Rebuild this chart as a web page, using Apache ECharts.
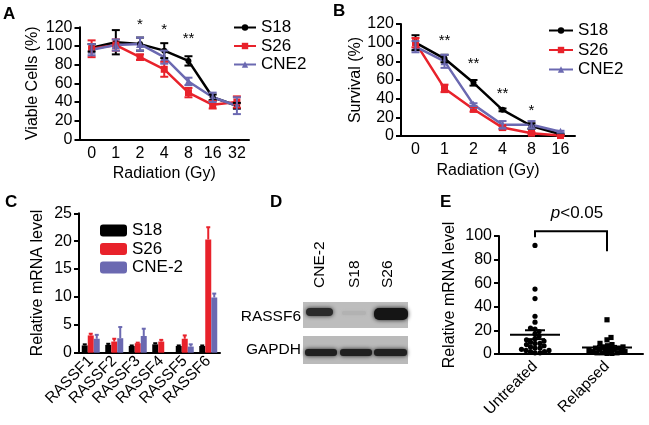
<!DOCTYPE html>
<html><head><meta charset="utf-8">
<script src="https://cdn.jsdelivr.net/npm/echarts@6/dist/echarts.min.js"></script>
<style>html,body{margin:0;padding:0;background:#fff}#c{width:649px;height:425px}</style>
</head><body><div id="c"></div><script>
// ---------- Panel A: viable cells ----------
const catsA = ['0','1','2','4','8','16','32'];
const aS18 = [98, 104, 102, 95, 84, 45, 36];
const aS18Err = [4, 13, 7, 8, 5, 3, 3];
const aS26 = [97, 101, 88, 75, 50, 37, 40];
const aS26Err = [9, 6, 3, 8, 5, 4, 6];
const aCNE2 = [96, 101, 102, 88, 62, 45, 36];
const aCNE2Err = [6, 6, 7, 7, 4, 5, 9];
const aStarCats = ['2','4','8'];
const aStarVals = [122.5, 117, 107.5];
const aStarText = ['*','*','**'];
// ---------- Panel B: survival ----------
const catsB = ['0','1','2','4','8','16'];
const bS18 = [100, 83, 57, 28, 10.7, 1.8];
const bS18Err = [8, 4, 3, 1.5, 3, 0.5];
const bS26 = [100, 51, 28.6, 9, 3, 0.5];
const bS26Err = [5, 4, 2.5, 2, 1, 0.5];
const bCNE2 = [95.7, 80, 33.6, 12, 12, 4.6];
const bCNE2Err = [6, 7, 1.5, 4, 4, 1];
const bStarCats = ['1','2','4','8'];
const bStarVals = [101.8, 77, 45, 26.8];
const bStarText = ['**','**','**','*'];
// ---------- Panel C: RASSF mRNA ----------
const catsC = ['RASSF1','RASSF2','RASSF3','RASSF4','RASSF5','RASSF6'];
const cS18 = [1.3, 1.4, 1.2, 1.5, 1.2, 1.2];
const cS18Err = [0.2, 0.2, 0.1, 0.2, 0.1, 0.1];
const cS26 = [3.1, 2.0, 1.7, 2.0, 2.5, 20.3];
const cS26Err = [0.3, 0.5, 0.1, 0.3, 0.6, 2.2];
const cCNE2 = [2.5, 2.6, 3.0, 0, 1.1, 9.9];
const cCNE2Err = [0.7, 2.0, 1.3, 0, 0.4, 0.7];
// ---------- Panel E: patients ----------
const catsE = ['Untreated','Relapsed'];
const eUntreated = [92, 55, 47, 32, 27, 22, 21, 19, 17, 15, 13, 12, 11, 10, 9, 9, 8, 7, 6, 5, 5, 4, 3, 3, 2, 2, 1, 1];
const eRelapsed = [29, 14, 12, 9, 8, 7, 6, 6, 5, 5, 4, 4, 3, 3, 3, 2, 2, 2, 1, 1, 1, 0.5, 0.5];
const eBracket = [99, 104, 87];   // left leg end, top, right leg end
const ePText = 119;

const FF = '"Liberation Sans", Arial, Helvetica, sans-serif';
const BLACK = '#000', RED = '#e8222b', PURPLE = '#6b69b1';
const TICK = 16, NAME = 16, LEG = 17;

const chart = echarts.init(document.getElementById('c'), null, {renderer:'canvas', width:649, height:425});

function yAx(gi, max, interval, name, nameGap){
  return {type:'value', gridIndex:gi, min:0, max, interval, name, nameLocation:'middle', nameGap, nameRotate:90,
    nameTextStyle:{fontSize:NAME, color:BLACK, fontFamily:FF},
    axisLine:{show:true, onZero:false, lineStyle:{color:BLACK, width:2}},
    axisTick:{show:true, length:5, lineStyle:{color:BLACK, width:2}},
    axisLabel:{fontSize:TICK, color:BLACK, margin:7, fontFamily:FF},
    splitLine:{show:false}};
}
function xAx(gi, data, name, nameGap, lab){
  return {type:'category', gridIndex:gi, data, name, nameLocation:'middle', nameGap,
    nameTextStyle:{fontSize:NAME, color:BLACK, fontFamily:FF},
    axisLine:{show:true, onZero:false, lineStyle:{color:BLACK, width:2}},
    axisTick:{show:false},
    axisLabel:Object.assign({fontSize:TICK, color:BLACK, margin:6, interval:0, fontFamily:FF}, lab||{}),
    splitLine:{show:false}};
}
function lineS(name, ax, data, color, symbol, size){
  return {type:'line', name, xAxisIndex:ax, yAxisIndex:ax, data, symbol, symbolSize:size, showSymbol:true,
    lineStyle:{width:2.5, color}, itemStyle:{color}, color, z:3, animation:false};
}
function errS(ax, vals, errs, color, opt){
  opt = opt || {};
  return {type:'custom', xAxisIndex:ax, yAxisIndex:ax, z:opt.z || 4, animation:false, clip:false,
    data: vals.map((v,i)=>[i, v, errs[i]]),
    renderItem(params, api){
      const i = api.value(0), v = api.value(1), e = api.value(2);
      if (!e) return null;
      const off = opt.offset || 0, hw = opt.cap || 4;
      const c = api.coord([i, v]); const x = c[0] + off;
      const top = api.coord([i, v + e])[1];
      const bot = opt.upOnly ? c[1] : api.coord([i, v - e])[1];
      const st = {stroke:color, lineWidth:2};
      const ch = [{type:'line', shape:{x1:x, y1:top, x2:x, y2:bot}, style:st},
                  {type:'line', shape:{x1:x-hw, y1:top, x2:x+hw, y2:top}, style:st}];
      if (!opt.upOnly) ch.push({type:'line', shape:{x1:x-hw, y1:bot, x2:x+hw, y2:bot}, style:st});
      return {type:'group', children:ch};
    }};
}
function textS(ax, cats, vals, texts, fs){
  return {type:'custom', xAxisIndex:ax, yAxisIndex:ax, z:5, animation:false, clip:false,
    data: cats.map((c,i)=>[c, vals[i]]),
    renderItem(params, api){
      const p = api.coord([api.value(0), api.value(1)]);
      return {type:'text', x:p[0], y:p[1], style:{text:texts[params.dataIndex], fontSize:fs, fill:BLACK,
        fontFamily:FF, align:'center', verticalAlign:'middle'}};
    }};
}
function swarmOffsets(api, vals, ci, d, maxW){
  const pts = vals.map((v,i)=>({i, y: api.coord([ci, v])[1]}));
  const order = pts.slice().sort((a,b)=>b.y - a.y);
  const placed = []; const off = new Array(vals.length).fill(0);
  for (const p of order){
    let best = 0, bestScore = -1;
    for (let k = 0; k < 400; k++){
      const cand = k === 0 ? 0 : (k % 2 ? 1 : -1) * Math.ceil(k/2) * 0.5;
      if (Math.abs(cand) > maxW) break;
      let mind = Infinity;
      for (const q of placed){ mind = Math.min(mind, Math.sqrt((cand-q.dx)**2 + (p.y-q.y)**2)); }
      if (mind >= d){ best = cand; bestScore = Infinity; break; }
      if (mind > bestScore + 0.3){ bestScore = mind; best = cand; }
    }
    placed.push({dx:best, y:p.y}); off[p.i] = best;
  }
  return off;
}
const eGroups = [eUntreated, eRelapsed];
function meanSem(a){
  const m = a.reduce((s,v)=>s+v,0)/a.length;
  const sd = Math.sqrt(a.reduce((s,v)=>s+(v-m)**2,0)/(a.length-1));
  return [m, sd/Math.sqrt(a.length)];
}

const ePts = [];
eGroups.forEach((g,ci)=>g.forEach((v,j)=>ePts.push([ci, v, j])));

const option = {
  animation:false,
  textStyle:{fontFamily:FF},
  grid:[
    {left:79.5, top:27.3, width:169.5, height:112, outerBoundsMode:'none'},
    {left:401, top:24, width:174, height:112, outerBoundsMode:'none'},
    {left:79, top:213.3, width:141, height:139.4, outerBoundsMode:'none'},
    {left:499, top:236, width:144, height:118, outerBoundsMode:'none'}
  ],
  xAxis:[
    xAx(0, catsA, 'Radiation (Gy)', 26),
    xAx(1, catsB, 'Radiation (Gy)', 27),
    xAx(2, catsC, '', 0, {rotate:45, fontSize:15.5, margin:6}),
    xAx(3, catsE, '', 0, {rotate:45, fontSize:15.5, margin:10})
  ],
  yAxis:[
    yAx(0, 120, 20, 'Viable Cells (%)', 39),
    yAx(1, 120, 20, 'Survival (%)', 36),
    yAx(2, 25, 5, 'Relative mRNA level', 33),
    yAx(3, 100, 20, 'Relative mRNA level', 41)
  ],
  legend:[
    {orient:'vertical', left:228, top:14, itemWidth:22, itemHeight:8, itemGap:1.5, selectedMode:false,
     data:['S18','S26','CNE2'], textStyle:{fontSize:LEG, color:BLACK, fontFamily:FF}},
    {orient:'vertical', left:543, top:17, itemWidth:24, itemHeight:8, itemGap:2.5, selectedMode:false,
     data:['S18','S26','CNE2'], textStyle:{fontSize:LEG, color:BLACK, fontFamily:FF}},
    {orient:'vertical', left:95, top:217, itemWidth:27, itemHeight:12, itemGap:1.5, selectedMode:false,
     data:['C_S18','C_S26','CNE-2'], formatter:n=>n.replace('C_',''),
     textStyle:{fontSize:LEG, color:BLACK, fontFamily:FF}}
  ],
  series:[
    lineS('S18', 0, aS18, BLACK, 'circle', 6),
    lineS('S26', 0, aS26, RED, 'rect', 7),
    lineS('CNE2', 0, aCNE2, PURPLE, 'triangle', 8),
    errS(0, aS18, aS18Err, BLACK), errS(0, aS26, aS26Err, RED), errS(0, aCNE2, aCNE2Err, PURPLE),
    textS(0, aStarCats, aStarVals, aStarText, 15),
    lineS('S18', 1, bS18, BLACK, 'circle', 6),
    lineS('S26', 1, bS26, RED, 'rect', 7),
    lineS('CNE2', 1, bCNE2, PURPLE, 'triangle', 8),
    errS(1, bS18, bS18Err, BLACK), errS(1, bS26, bS26Err, RED), errS(1, bCNE2, bCNE2Err, PURPLE),
    textS(1, bStarCats, bStarVals, bStarText, 15),
    {type:'bar', name:'C_S18', xAxisIndex:2, yAxisIndex:2, data:cS18, barWidth:6, barGap:'0%', itemStyle:{color:BLACK}, color:BLACK},
    {type:'bar', name:'C_S26', xAxisIndex:2, yAxisIndex:2, data:cS26, barWidth:6, barGap:'0%', itemStyle:{color:RED}, color:RED},
    {type:'bar', name:'CNE-2', xAxisIndex:2, yAxisIndex:2, data:cCNE2, barWidth:6, barGap:'0%', itemStyle:{color:PURPLE}, color:PURPLE},
    errS(2, cS18, cS18Err, BLACK, {offset:-6, cap:2, upOnly:true}),
    errS(2, cS26, cS26Err, RED, {offset:0, cap:2, upOnly:true}),
    errS(2, cCNE2, cCNE2Err, PURPLE, {offset:6, cap:2, upOnly:true}),
    // Panel E points
    {type:'custom', xAxisIndex:3, yAxisIndex:3, z:4, animation:false, clip:false, data:ePts,
     renderItem(params, api){
       const ci = api.value(0), v = api.value(1), j = api.value(2);
       const off = swarmOffsets(api, eGroups[ci], ci, 4.6, ci === 0 ? 22 : 18);
       const p = api.coord([ci, v]); const x = p[0] + off[j];
       if (ci === 0) return {type:'circle', shape:{cx:x, cy:p[1], r:2.6}, style:{fill:BLACK}};
       return {type:'rect', shape:{x:x-2.6, y:p[1]-2.6, width:5.2, height:5.2}, style:{fill:BLACK}};
     }},
    // Panel E mean +/- SEM
    {type:'custom', xAxisIndex:3, yAxisIndex:3, z:5, animation:false, clip:false,
     data: eGroups.map((g,ci)=>{const ms = meanSem(g); return [ci, ms[0], ms[1]];}),
     renderItem(params, api){
       const ci = api.value(0), m = api.value(1), s = api.value(2);
       const p = api.coord([ci, m]); const t = api.coord([ci, m+s])[1]; const b = api.coord([ci, m-s])[1];
       const st = {stroke:BLACK, lineWidth:2};
       return {type:'group', children:[
         {type:'line', shape:{x1:p[0]-25, y1:p[1], x2:p[0]+25, y2:p[1]}, style:st},
         {type:'line', shape:{x1:p[0], y1:t, x2:p[0], y2:b}, style:st},
         {type:'line', shape:{x1:p[0]-10, y1:t, x2:p[0]+10, y2:t}, style:st},
         {type:'line', shape:{x1:p[0]-10, y1:b, x2:p[0]+10, y2:b}, style:st}
       ]};
     }},
    // Panel E bracket + p value
    {type:'custom', xAxisIndex:3, yAxisIndex:3, z:5, animation:false, clip:false, data:[[0, 1]],
     renderItem(params, api){
       const a = api.coord([0, eBracket[0]]), at = api.coord([0, eBracket[1]]);
       const bt = api.coord([1, eBracket[1]]), b = api.coord([1, eBracket[2]]);
       const tp = api.coord([0, ePText]);
       return {type:'group', children:[
         {type:'polyline', shape:{points:[a, at, bt, b]}, style:{stroke:BLACK, lineWidth:2, fill:null}},
         {type:'text', x:(at[0]+bt[0])/2 + 6, y:tp[1], style:{
           text:'{i|p}<0.05', fontSize:17, fill:BLACK, fontFamily:FF, align:'center', verticalAlign:'middle',
           rich:{i:{fontStyle:'italic', fontSize:17, fontFamily:FF, fill:BLACK}}}}
       ]};
     }}
  ],
  graphic:[
    {type:'text', left:3, top:6, style:{text:'A', fontSize:17, fontWeight:'bold', fill:BLACK, fontFamily:FF}},
    {type:'text', left:333, top:3, style:{text:'B', fontSize:17, fontWeight:'bold', fill:BLACK, fontFamily:FF}},
    {type:'text', left:5, top:194, style:{text:'C', fontSize:17, fontWeight:'bold', fill:BLACK, fontFamily:FF}},
    {type:'text', left:270, top:194, style:{text:'D', fontSize:17, fontWeight:'bold', fill:BLACK, fontFamily:FF}},
    {type:'text', left:440, top:194, style:{text:'E', fontSize:17, fontWeight:'bold', fill:BLACK, fontFamily:FF}},
    // western blot strips
    {type:'rect', shape:{x:303, y:302, width:105, height:26}, style:{fill:'#bdbdbd'}},
    {type:'rect', shape:{x:303, y:336, width:105, height:28}, style:{fill:'#bababa'}},
    // RASSF6 bands
    {type:'rect', shape:{x:306, y:308, width:27, height:8, r:4}, style:{fill:'#2a2a2a', shadowBlur:4, shadowColor:'#2a2a2a'}},
    {type:'rect', shape:{x:342, y:311, width:24, height:4, r:2}, style:{fill:'#b2b2b2', shadowBlur:3, shadowColor:'#b2b2b2'}},
    {type:'rect', shape:{x:374, y:308, width:34, height:12, r:5}, style:{fill:'#151515', shadowBlur:4, shadowColor:'#151515'}},
    // GAPDH bands
    {type:'rect', shape:{x:305, y:349, width:32, height:7, r:3}, style:{fill:'#202020', shadowBlur:4, shadowColor:'#202020'}},
    {type:'rect', shape:{x:340, y:349, width:32, height:7, r:3}, style:{fill:'#202020', shadowBlur:4, shadowColor:'#202020'}},
    {type:'rect', shape:{x:374, y:349, width:33, height:7, r:3}, style:{fill:'#202020', shadowBlur:4, shadowColor:'#202020'}},
    // blot labels
    {type:'text', x:301, y:317, style:{text:'RASSF6', fontSize:15.5, fill:BLACK, fontFamily:FF, align:'right', verticalAlign:'middle'}},
    {type:'text', x:301, y:350, style:{text:'GAPDH', fontSize:15.5, fill:BLACK, fontFamily:FF, align:'right', verticalAlign:'middle'}},
    {type:'text', x:320, y:288, rotation:Math.PI/2, style:{text:'CNE-2', fontSize:15.5, fill:BLACK, fontFamily:FF, align:'left', verticalAlign:'middle'}},
    {type:'text', x:355, y:288, rotation:Math.PI/2, style:{text:'S18', fontSize:15.5, fill:BLACK, fontFamily:FF, align:'left', verticalAlign:'middle'}},
    {type:'text', x:388, y:288, rotation:Math.PI/2, style:{text:'S26', fontSize:15.5, fill:BLACK, fontFamily:FF, align:'left', verticalAlign:'middle'}}
  ]
};
chart.setOption(option);
</script></body></html>
